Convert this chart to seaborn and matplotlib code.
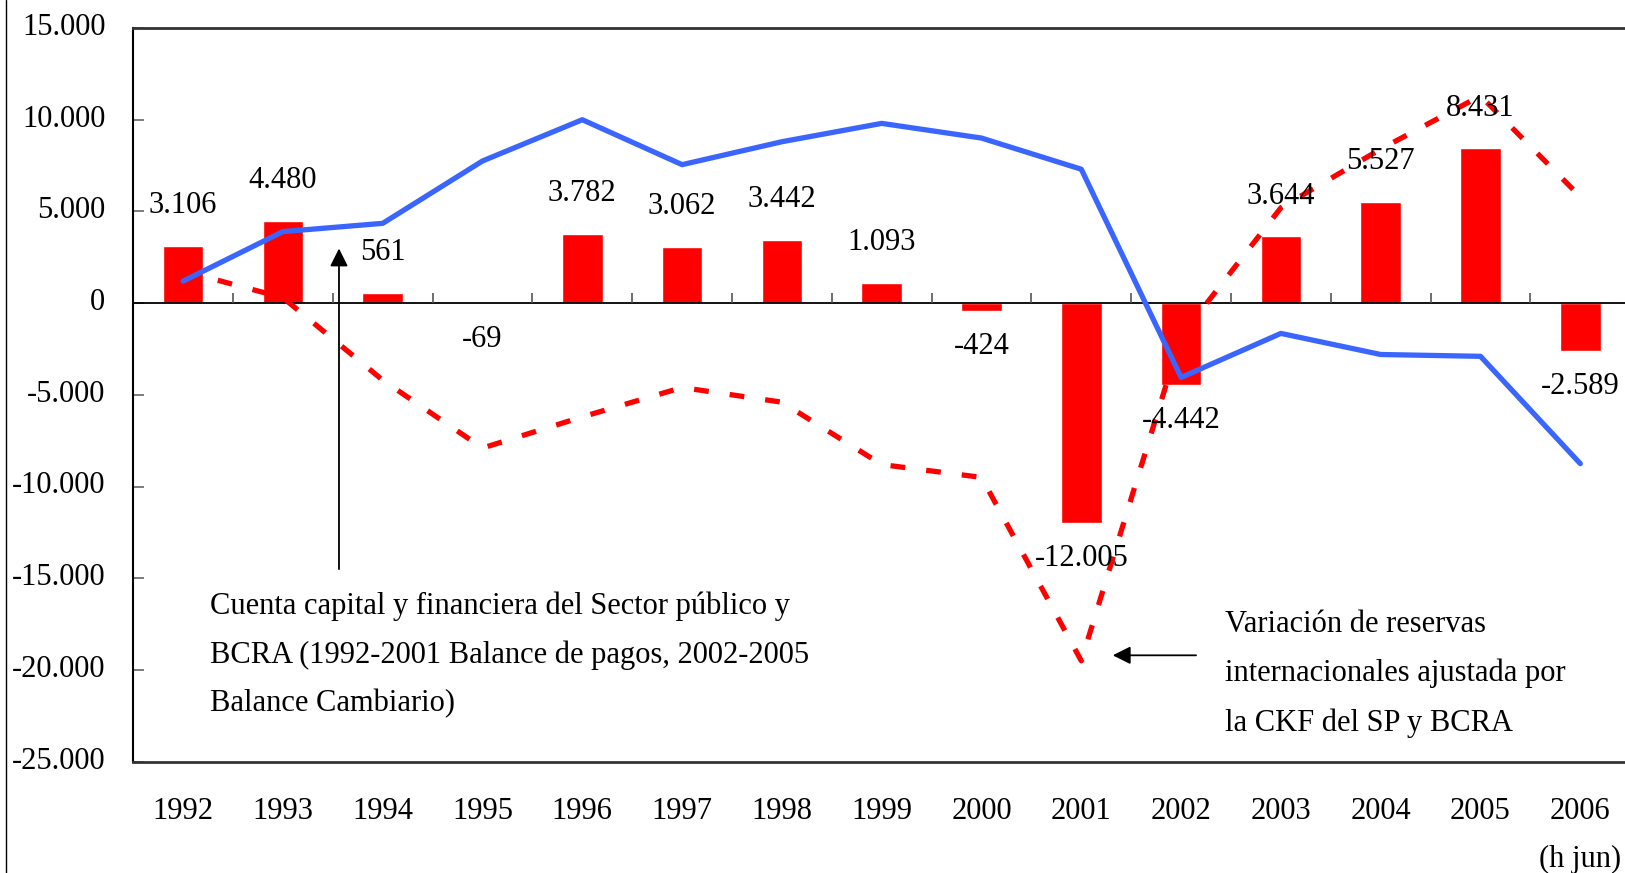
import numpy as np
import pandas as pd
import seaborn as sns
import matplotlib.pyplot as plt
import matplotlib.transforms as mtransforms
from matplotlib.lines import Line2D

# datos (millones de US$)
anios = ['1992', '1993', '1994', '1995', '1996', '1997', '1998', '1999',
         '2000', '2001', '2002', '2003', '2004', '2005', '2006']
etiquetas_x = anios[:-1] + ['2006\n(h jun)']

# barras: cuenta capital y financiera del SP y BCRA
ckf_sp_bcra = [3106, 4480, 561, -69, 3782, 3062, 3442, 1093,
               -424, -12005, -4442, 3644, 5527, 8431, -2589]
# linea azul: variacion de reservas internacionales
variacion_reservas = [1200, 3900, 4350, 7750, 10000, 7550, 8800, 9800,
                      9000, 7300, -4050, -1650, -2800, -2900, -8750]
# linea roja punteada: variacion de reservas ajustada por la CKF del SP y BCRA
reservas_ajustadas = [1750, 300, -4200, -7900, -6200, -4600, -5400, -8800,
                      -9500, -19500, -1800, 5200, 8400, 11300, 5800]

ticks_y = [-25000, -20000, -15000, -10000, -5000, 0, 5000, 10000, 15000]
etiquetas_y = ['-25.000', '-20.000', '-15.000', '-10.000', '-5.000',
               '0', '5.000', '10.000', '15.000']

texto_ckf = ('Cuenta capital y financiera del Sector público y\n'
             'BCRA (1992-2001 Balance de pagos, 2002-2005\n'
             'Balance Cambiario)')
texto_reservas = ('Variación de reservas\n'
                  'internacionales ajustada por\n'
                  'la CKF del SP y BCRA')

df = pd.DataFrame({'anio': anios, 'ckf': ckf_sp_bcra,
                   'reservas': variacion_reservas,
                   'ajustada': reservas_ajustadas})
df['pos'] = np.arange(len(df))


def miles(v):
    # separador de miles con punto
    return f'{v:,}'.replace(',', '.')


sns.set_theme(style='white')
plt.rcParams['font.family'] = ['Liberation Serif', 'DejaVu Serif']
FS = 22
INTERLINEA = 1.87

fig = plt.figure(figsize=(16.25, 8.73), dpi=100)
ax = fig.add_axes([133.2 / 1625, 111.3 / 873, 1497 / 1625, 733.7 / 873])

sns.barplot(data=df, x='anio', y='ckf', color='#FF0000', saturation=1,
            width=0.405, ax=ax, zorder=1.5)

sns.lineplot(data=df, x='pos', y='ajustada', color='#FF0000', linewidth=3.8,
             sort=False, ax=ax, zorder=3)
ax.lines[-1].set_linestyle((0, (2.8, 4.0)))
ax.lines[-1].set_dash_capstyle('butt')

sns.lineplot(data=df, x='pos', y='reservas', color='#3A66FF', linewidth=3.8,
             sort=False, ax=ax, zorder=3.5, solid_capstyle='round')

# eje en cero con marcas entre categorias
ax.axhline(0, color='black', lw=1.3, zorder=2.5)
ax.vlines(df['pos'].values[:-1] + 0.5, 0, 550, colors='#555555', lw=1.2, zorder=2.5)

# etiquetas de datos
for i, v in enumerate(df['ckf']):
    ax.annotate(miles(v), xy=(i, v), xytext=(0, 29 if v > 0 else -25.5),
                textcoords='offset points', ha='center', va='center',
                fontsize=FS, color='black', zorder=5)

# anotaciones con flechas
ax.annotate('', xy=(1.562, 2980), xytext=(1.562, -14500),
            arrowprops=dict(arrowstyle='-|>', color='black', lw=1.3,
                            mutation_scale=27, shrinkA=0, shrinkB=0))
ax.text(0.27, -15700, texto_ckf, fontsize=FS, ha='left', va='top',
        linespacing=INTERLINEA, color='black')

ax.annotate('', xy=(9.315, -19200), xytext=(10.15, -19200),
            arrowprops=dict(arrowstyle='-|>', color='black', lw=1.3,
                            mutation_scale=27, shrinkA=0, shrinkB=0))
ax.text(10.44, -16750, texto_reservas, fontsize=FS, ha='left', va='top',
        linespacing=INTERLINEA, color='black')

ax.set_xlim(-0.5, 14.5)
ax.set_ylim(-25000, 15000)
ax.set_xticks(df['pos'], etiquetas_x)
ax.set_yticks(ticks_y, etiquetas_y)
ax.set_xlabel('')
ax.set_ylabel('')
ax.tick_params(axis='x', length=0, pad=25.5, labelsize=FS, colors='black')
ax.tick_params(axis='y', direction='in', length=8, width=1.2, color='#666666',
               pad=20, labelsize=FS, labelcolor='black', left=True)
for lbl in ax.get_xticklabels():
    lbl.set_linespacing(INTERLINEA)

# las etiquetas del eje y van un poco mas arriba en el original
subir = mtransforms.ScaledTranslation(0, 3 / 72, fig.dpi_scale_trans)
for lbl in ax.get_yticklabels():
    lbl.set_transform(lbl.get_transform() + subir)

for lado in ['top', 'bottom']:
    ax.spines[lado].set_color('#333333')
    ax.spines[lado].set_linewidth(2)
ax.spines['left'].set_color('black')
ax.spines['left'].set_linewidth(1.5)
ax.spines['right'].set_visible(False)

# borde izquierdo del area del grafico
fig.add_artist(Line2D([5.5 / 1625, 5.5 / 1625], [0, 1], color='black', lw=1))

fig.savefig('out.png', dpi=100)
